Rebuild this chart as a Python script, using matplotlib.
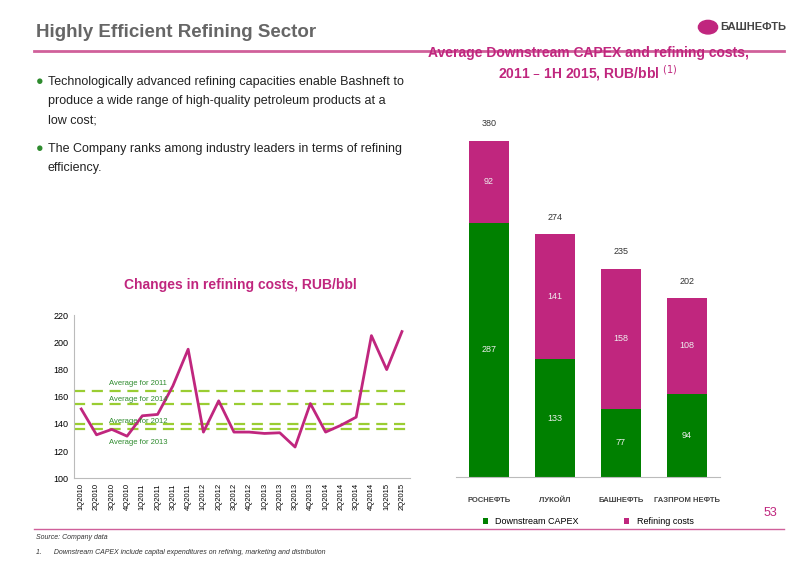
import matplotlib.pyplot as plt
import numpy as np

quarters = ['1Q2010', '2Q2010', '3Q2010', '4Q2010', '1Q2011', '2Q2011', '3Q2011', '4Q2011',
            '1Q2012', '2Q2012', '3Q2012', '4Q2012', '1Q2013', '2Q2013', '3Q2013', '4Q2013',
            '1Q2014', '2Q2014', '3Q2014', '4Q2014', '1Q2015', '2Q2015']
refining_costs = [151, 132, 136, 131, 146, 147, 168, 195, 134, 157, 134, 134,
                  133, 133.5, 123, 155, 134, 139, 145, 205, 180, 208]
avg_labels = ['Average for 2011', 'Average for 2014', 'Average for 2012', 'Average for 2013']
avg_values = [164, 155, 140, 136]

companies = ['РОСНЕФТЬ', 'ЛУКОЙЛ', 'БАШНЕФТЬ', 'ГАЗПРОМ НЕФТЬ']
capex = [287, 133, 77, 94]
refining = [92, 141, 158, 108]
totals = [380, 274, 235, 202]

GREEN = '#008000'
MAGENTA = '#C0267E'
GREY = '#666666'

plt.rcParams['font.family'] = ['Liberation Sans', 'DejaVu Sans']
fig = plt.figure(figsize=(8, 5.66), dpi=100)

# header
fig.text(0.045, 0.943, 'Highly Efficient Refining Sector', fontsize=13.5, fontweight='bold',
         color=GREY, va='center')
fig.add_artist(plt.Line2D([0.043, 0.98], [0.91, 0.91], color='#D0609A', lw=2))
fig.text(0.9, 0.953, 'БАШНЕФТЬ', fontsize=8, fontweight='bold', color='#444444', va='center')
fig.add_artist(plt.Circle((0.885, 0.952), 0.012, color=MAGENTA, transform=fig.transFigure))

# bullets
for y, lines in [(0.855, ['Technologically advanced refining capacities enable Bashneft to',
                          'produce a wide range of high-quality petroleum products at a',
                          'low cost;']),
                 (0.737, ['The Company ranks among industry leaders in terms of refining',
                          'efficiency.'])]:
    fig.text(0.045, y, '●', color='#2E8B2E', fontsize=9, va='center')
    for i, ln in enumerate(lines):
        fig.text(0.06, y - i * 0.034, ln, fontsize=9, color='#222222', va='center')

# line chart
fig.text(0.3, 0.49, 'Changes in refining costs, RUB/bbl', fontsize=10, fontweight='bold',
         color=MAGENTA, ha='center')
ax1 = fig.add_axes([0.092, 0.155, 0.42, 0.288])
x = np.arange(len(quarters))
for v in avg_values:
    ax1.axhline(v, color='#9ACD32', lw=1.6, ls=(0, (5, 3)))
label_y = {'Average for 2011': 170, 'Average for 2014': 158,
           'Average for 2012': 142, 'Average for 2013': 126}
for lbl in avg_labels:
    ax1.text(1.8, label_y[lbl], lbl, fontsize=5.5, color='#2E8B2E', va='center')
ax1.plot(x, refining_costs, color=MAGENTA, lw=2)
ax1.set_ylim(100, 220)
ax1.set_yticks(range(100, 221, 20))
ax1.set_xlim(-0.5, len(quarters) - 0.5)
ax1.set_xticks(x)
ax1.set_xticklabels(quarters, rotation=90, fontsize=5.5)
ax1.tick_params(axis='y', labelsize=6.5, length=0)
ax1.tick_params(axis='x', length=0)
for s in ['top', 'right']:
    ax1.spines[s].set_visible(False)
for s in ['left', 'bottom']:
    ax1.spines[s].set_color('#BBBBBB')

# bar chart
fig.text(0.735, 0.9, 'Average Downstream CAPEX and refining costs,', fontsize=10,
         fontweight='bold', color=MAGENTA, ha='center')
fig.text(0.735, 0.862, '2011 – 1H 2015, RUB/bbl $^{(1)}$', fontsize=10,
         fontweight='bold', color=MAGENTA, ha='center')
ax2 = fig.add_axes([0.57, 0.157, 0.33, 0.627])
xb = np.arange(len(companies))
ax2.bar(xb, capex, width=0.62, color=GREEN, label='Downstream CAPEX')
ax2.bar(xb, refining, width=0.62, bottom=capex, color=MAGENTA, label='Refining costs')
for i in xb:
    ax2.text(i, capex[i] / 2, str(capex[i]), ha='center', va='center', color='#EEEEEE', fontsize=6.5)
    ax2.text(i, capex[i] + refining[i] / 2, str(refining[i]), ha='center', va='center',
             color='#EEEEEE', fontsize=6.5)
    ax2.text(i, capex[i] + refining[i] + 14, str(totals[i]), ha='center',
             va='bottom', color='#333333', fontsize=6.5)
ax2.set_ylim(0, 400)
ax2.set_xlim(-0.5, 3.5)
ax2.set_xticks(xb)
ax2.set_xticklabels(companies, fontsize=5.5, fontweight='bold', color='#444444')
ax2.tick_params(length=0, pad=14)
ax2.set_yticks([])
for s in ['top', 'right', 'left']:
    ax2.spines[s].set_visible(False)
ax2.spines['bottom'].set_color('#BBBBBB')
ax2.legend(loc='upper center', bbox_to_anchor=(0.5, -0.09), ncol=2, frameon=False,
           fontsize=6.5, handlelength=0.6, handleheight=0.6, columnspacing=5)

# footer
fig.text(0.955, 0.088, '53', fontsize=9, color=MAGENTA)
fig.add_artist(plt.Line2D([0.043, 0.98], [0.065, 0.065], color='#D0609A', lw=1))
fig.text(0.045, 0.048, 'Source: Company data', fontsize=5, style='italic', color='#333333')
fig.text(0.045, 0.022, '1.      Downstream CAPEX include capital expenditures on refining, marketing and distribution',
         fontsize=5, style='italic', color='#333333')

fig.savefig('out.png', dpi=100)
